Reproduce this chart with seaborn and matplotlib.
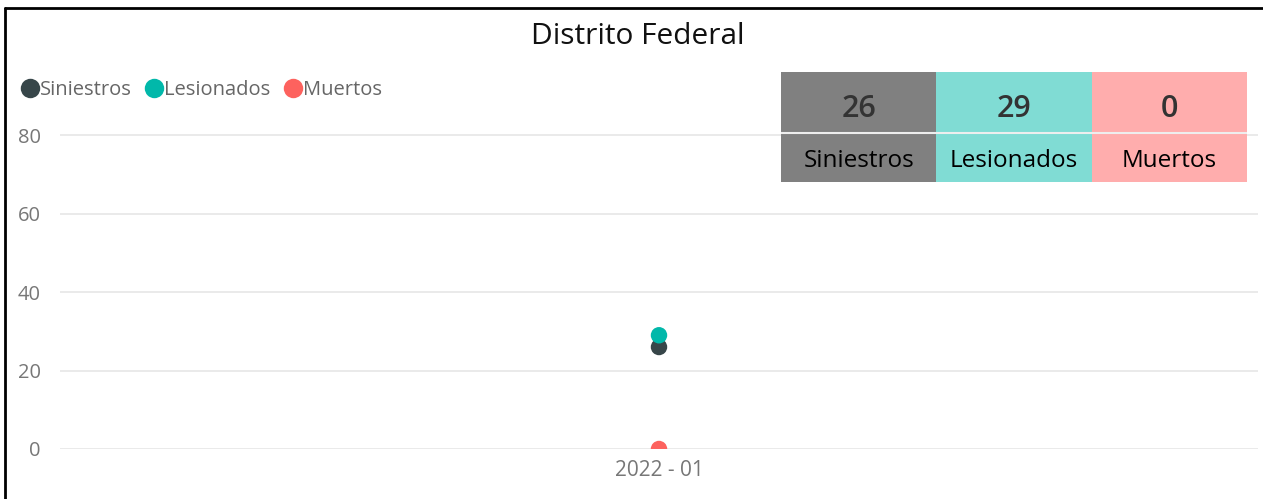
import matplotlib
matplotlib.use("Agg")
import matplotlib.pyplot as plt
import seaborn as sns
import pandas as pd
from matplotlib.lines import Line2D

# ---- data ----
periods = ["2022 - 01"]
series = ["Siniestros", "Lesionados", "Muertos"]
siniestros = [26]
lesionados = [29]
muertos = [0]
totals = [26, 29, 0]
yticks = [0, 20, 40, 60, 80]
title = "Distrito Federal"

dot_colors = ["#374649", "#01B8AA", "#FD625E"]
card_colors = ["#808080", "#80DCD4", "#FFADAD"]

sns.set_theme(style="white")
plt.rcParams["font.family"] = ["Open Sans", "DejaVu Sans"]

df = pd.DataFrame({
    "Periodo": periods * 3,
    "Serie": [series[0]] * len(periods) + [series[1]] * len(periods) + [series[2]] * len(periods),
    "Valor": siniestros + lesionados + muertos,
})

W, H = 1263, 499
fig = plt.figure(figsize=(W / 100, H / 100), dpi=100)
fig.patch.set_facecolor("white")

ax = fig.add_axes([60 / W, (H - 449) / H, (1258 - 60) / W, (449 - 96) / H])
sns.scatterplot(data=df, x="Periodo", y="Valor", hue="Serie", hue_order=series,
                palette=dot_colors, s=140, edgecolor="none", legend=False, ax=ax,
                zorder=3)
ax.set_xlim(-0.5, 0.5)
ax.set_ylim(0, 90)
ax.set_yticks(yticks)
ax.set_yticklabels([str(v) for v in yticks], fontsize=14.5, color="#777777")
ax.tick_params(axis="y", length=0, pad=14)
ax.tick_params(axis="x", length=0, pad=8, labelsize=15, labelcolor="#777777")
for lab in ax.get_yticklabels():
    lab.set_horizontalalignment("right")
ax.grid(axis="y", color="#E6E6E6", linewidth=1.2)
ax.set_axisbelow(True)
for sp in ax.spines.values():
    sp.set_visible(False)
ax.set_xlabel("")
ax.set_ylabel("")

# title
fig.text(638 / W, (H - 36) / H, title, ha="center", va="center", fontsize=21.5, color="#111111")

# legend
handles = [Line2D([0], [0], marker="o", linestyle="none", markersize=14,
                  markerfacecolor=c, markeredgecolor="none") for c in dot_colors]
fig.legend(handles, series, loc="center left", bbox_to_anchor=(10 / W, (H - 90) / H),
           ncol=3, frameon=False, handletextpad=-0.1, columnspacing=0.5,
           handlelength=1.2, fontsize=14.5, labelcolor="#666666", borderaxespad=0)

# KPI cards
tax = fig.add_axes([781 / W, (H - 182) / H, (1247 - 781) / W, (182 - 72) / H])
tax.bar(range(len(series)), [1] * len(series), width=1.0, bottom=0, color=card_colors,
        edgecolor="none")
tax.set_xlim(-0.5, len(series) - 0.5)
tax.set_ylim(0, 1)
tax.axhline(0.445, color="#EEEEEE", linewidth=1.5)
for i, (name, val) in enumerate(zip(series, totals)):
    tax.text(i, 0.665, str(val), ha="center", va="center", fontsize=22, color="#333333",
             fontweight="semibold")
    tax.text(i, 0.19, name, ha="center", va="center", fontsize=17.5, color="#000000")
tax.axis("off")

# border lines
fig.add_artist(Line2D([5 / W, 5 / W], [0, (H - 8) / H], color="#000000", linewidth=2,
                      transform=fig.transFigure))
fig.add_artist(Line2D([5 / W, 1], [(H - 8) / H, (H - 8) / H], color="#000000", linewidth=2,
                      transform=fig.transFigure))

fig.savefig("out.png", dpi=100)
